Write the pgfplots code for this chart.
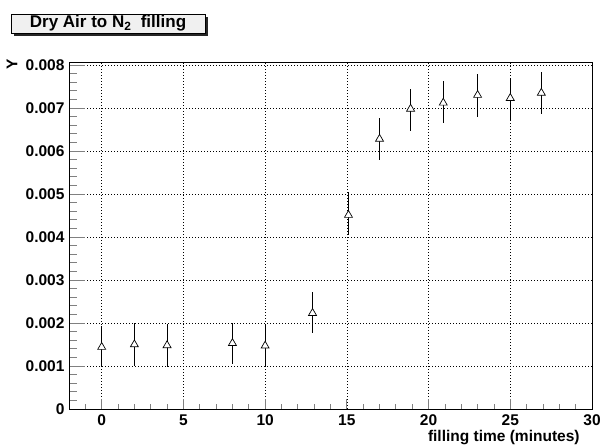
\documentclass[border=0pt]{standalone}
\usepackage{fontspec}
\setmainfont{Liberation Sans}
\usepackage{pgfplots}
\pgfplotsset{compat=1.18}

% x, y, upper and lower error
\pgfplotstableread{
x     y        ep       em
0.0   0.00144  0.00049  0.00046
2.0   0.00150  0.00050  0.00050
4.0   0.00148  0.00049  0.00050
8.0   0.00153  0.00047  0.00048
10.0  0.00147  0.00048  0.00049
12.9  0.00223  0.00049  0.00046
15.1  0.00451  0.00054  0.00046
17.0  0.00628  0.00049  0.00049
18.9  0.00698  0.00046  0.00051
20.9  0.00712  0.00051  0.00047
23.0  0.00730  0.00049  0.00051
25.0  0.00723  0.00047  0.00051
26.9  0.00735  0.00049  0.00049
}\filling

\begin{document}
\begin{tikzpicture}
\useasboundingbox (-69pt,-37pt) rectangle (532pt,409pt);
\begin{axis}[
  at={(0,0)}, anchor=south west,
  scale only axis,
  width=523pt, height=347pt,
  xmin=-2, xmax=30,
  ymin=0, ymax=0.00807,
  xtick={0,5,10,15,20,25,30},
  ytick={0,0.001,0.002,0.003,0.004,0.005,0.006,0.007,0.008},
  minor xtick={-1,0,1,2,3,4,5,6,7,8,9,10,11,12,13,14,15,16,17,18,19,20,21,22,23,24,25,26,27,28,29},
  minor ytick={0.0002,0.0004,0.0006,0.0008,0.0012,0.0014,0.0016,0.0018,
               0.0022,0.0024,0.0026,0.0028,0.0032,0.0034,0.0036,0.0038,
               0.0042,0.0044,0.0046,0.0048,0.0052,0.0054,0.0056,0.0058,
               0.0062,0.0064,0.0066,0.0068,0.0072,0.0074,0.0076,0.0078},
  tick align=inside,
  xtick pos=left, ytick pos=left,
  xtick style={/pgfplots/major tick length=10.4pt, /pgfplots/minor tick length=5.2pt, line width=0.8pt},
  ytick style={/pgfplots/major tick length=15.7pt, /pgfplots/minor tick length=7.8pt, line width=0.8pt},
  grid=major,
  major grid style={black, line width=0.6pt, dash pattern=on 1pt off 2pt},
  axis line style={line width=0.8pt},
  ticklabel style={font=\fontsize{15.5}{18}\selectfont\bfseries},
  /pgf/number format/assume math mode=true,
  scaled y ticks=false,
  yticklabel style={/pgf/number format/fixed, /pgf/number format/precision=3, xshift=-1pt},
  xticklabel style={yshift=-2pt},
  xlabel={filling time (minutes)},
  xlabel style={at={(axis description cs:0.983,0)}, anchor=base east, yshift=-33pt,
    font=\fontsize{15.5}{18}\selectfont\bfseries},
  ylabel={Y},
  % label is rotated by 90 degrees: yshift moves it left, xshift moves it up
  ylabel style={at={(axis description cs:0,1)}, anchor=east, yshift=57pt, xshift=6pt,
    font=\fontsize{15.5}{18}\selectfont\bfseries},
]
\addplot[only marks, mark=triangle*, mark size=4.6pt,
  mark options={fill=white, draw=black, line width=0.7pt, solid},
  error bars/.cd, y dir=both, y explicit, error mark=none,
  error bar style={black, line width=0.9pt}]
  table[x=x, y=y, y error plus=ep, y error minus=em] {\filling};
\end{axis}
% title box with shadow
\fill[black!85] (-55pt,373pt) rectangle (139pt,392pt);
\draw[fill=black!6, line width=0.8pt] (-58pt,376pt) rectangle (136pt,395pt);
\node[font=\fontsize{17}{20}\selectfont\bfseries] at (39pt,385.5pt)
  {Dry Air to N\textsubscript{2}\hspace{0.55em}filling};
\end{tikzpicture}
\end{document}
